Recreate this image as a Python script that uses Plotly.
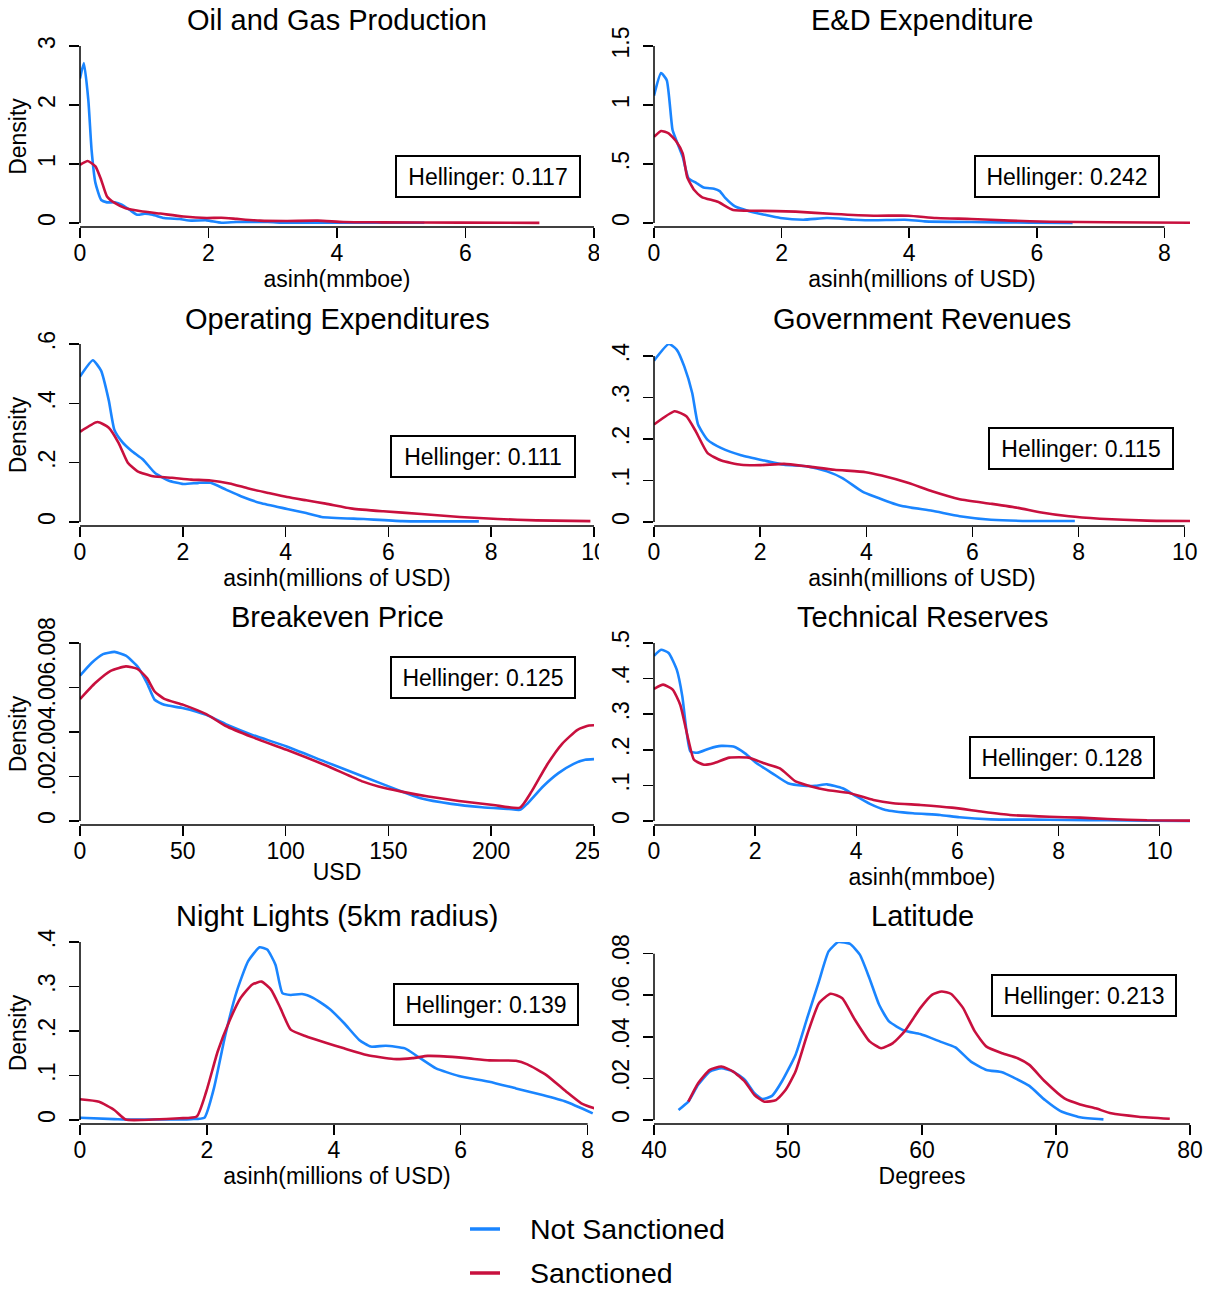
import plotly.graph_objects as go

W, H = 1213, 1290
FONT = "Liberation Sans, Arial, Helvetica, sans-serif"
BLUE = "#1A85FF"
RED = "#C8103E"

# ---------------- data ----------------
# Oil and Gas Production
oil_x_ns = [0, 0.06, 0.13, 0.18, 0.24, 0.33, 0.42, 0.54, 0.65, 0.77, 0.89, 1.01, 1.13, 1.31, 1.55, 1.73, 1.97, 2.2, 2.44, 2.92, 3.2, 4.0, 5.36]
oil_y_ns = [2.45, 2.71, 2.08, 1.24, 0.68, 0.39, 0.35, 0.35, 0.31, 0.225, 0.14, 0.157, 0.14, 0.084, 0.067, 0.04, 0.045, 0.005, 0.017, 0.017, 0.004, 0.004, 0.004]
oil_x_s = [0, 0.12, 0.24, 0.33, 0.42, 0.54, 0.71, 0.95, 1.25, 1.61, 1.97, 2.2, 2.44, 2.8, 3.2, 3.7, 4.1, 4.7, 5.9, 7.15]
oil_y_s = [0.985, 1.05, 0.96, 0.73, 0.45, 0.34, 0.25, 0.2, 0.16, 0.11, 0.085, 0.09, 0.07, 0.04, 0.034, 0.04, 0.017, 0.011, 0.006, 0.002]

# E&D Expenditure
ed_x_ns = [0, 0.11, 0.2, 0.29, 0.35, 0.45, 0.54, 0.66, 0.78, 0.94, 1.03, 1.12, 1.27, 1.49, 1.73, 1.98, 2.34, 2.71, 3.14, 3.44, 3.93, 4.24, 4.97, 5.89, 6.56]
ed_y_ns = [1.08, 1.27, 1.21, 0.79, 0.70, 0.56, 0.38, 0.34, 0.30, 0.29, 0.27, 0.21, 0.14, 0.10, 0.07, 0.042, 0.028, 0.042, 0.028, 0.023, 0.028, 0.014, 0.008, 0.003, 0.001]
ed_x_s = [0, 0.11, 0.23, 0.35, 0.45, 0.52, 0.63, 0.75, 1.0, 1.24, 1.61, 2.22, 2.83, 3.44, 3.99, 4.42, 4.97, 5.58, 6.2, 7.11, 8.4]
ed_y_s = [0.73, 0.78, 0.76, 0.69, 0.59, 0.39, 0.28, 0.22, 0.18, 0.11, 0.104, 0.096, 0.076, 0.062, 0.062, 0.042, 0.034, 0.02, 0.011, 0.006, 0.002]

# Operating Expenditures
opex_x_ns = [0, 0.25, 0.41, 0.56, 0.67, 0.82, 1.0, 1.23, 1.46, 1.72, 2.01, 2.31, 2.54, 2.84, 3.13, 3.51, 4.03, 4.4, 4.7, 5.52, 6.27, 7.76]
opex_y_ns = [0.49, 0.545, 0.51, 0.41, 0.31, 0.27, 0.24, 0.21, 0.165, 0.14, 0.128, 0.132, 0.132, 0.109, 0.087, 0.064, 0.044, 0.03, 0.017, 0.01, 0.003, 0.002]
opex_x_s = [0, 0.34, 0.56, 0.75, 0.93, 1.12, 1.42, 1.79, 2.16, 2.54, 2.91, 3.28, 3.66, 4.03, 4.4, 4.78, 5.3, 5.9, 6.64, 7.39, 8.13, 8.88, 9.93]
opex_y_s = [0.304, 0.337, 0.318, 0.267, 0.2, 0.171, 0.154, 0.149, 0.143, 0.14, 0.13, 0.113, 0.098, 0.084, 0.073, 0.062, 0.045, 0.036, 0.027, 0.017, 0.01, 0.0056, 0.003]

# Government Revenues
gov_x_ns = [0, 0.28, 0.43, 0.57, 0.72, 0.83, 1.01, 1.27, 1.64, 2.08, 2.45, 2.89, 3.26, 3.55, 3.92, 4.14, 4.65, 5.24, 5.76, 6.35, 7.08, 7.93]
gov_y_ns = [0.389, 0.429, 0.415, 0.375, 0.311, 0.235, 0.198, 0.178, 0.161, 0.148, 0.138, 0.134, 0.122, 0.106, 0.074, 0.062, 0.039, 0.027, 0.014, 0.0056, 0.0024, 0.0024]
gov_x_s = [0, 0.39, 0.61, 0.79, 1.01, 1.27, 1.64, 2.01, 2.45, 2.89, 3.40, 3.99, 4.29, 4.8, 5.24, 5.76, 6.35, 6.86, 7.3, 7.82, 8.4, 9.29, 10.1]
gov_y_s = [0.235, 0.267, 0.255, 0.218, 0.166, 0.148, 0.138, 0.137, 0.14, 0.134, 0.126, 0.12, 0.112, 0.094, 0.074, 0.055, 0.044, 0.034, 0.023, 0.0137, 0.008, 0.0032, 0.0024]

# Breakeven Price
be_x_ns = [0, 5.6, 11.2, 16.8, 22.3, 27.9, 32.6, 36.3, 41, 50.3, 61.4, 72.6, 83.8, 100.5, 119.1, 137.7, 154.5, 165.7, 180.6, 195.5, 208.5, 214, 217.8, 225.2, 232.7, 240.1, 245.7, 250]
be_y_ns = [0.00653, 0.0071, 0.0075, 0.0076, 0.00743, 0.00695, 0.0062, 0.00545, 0.00522, 0.00507, 0.00477, 0.00428, 0.00387, 0.00335, 0.00267, 0.0020, 0.0014, 0.00102, 0.00077, 0.00062, 0.00054, 0.0005, 0.0008, 0.00155, 0.00215, 0.00257, 0.00275, 0.00278]
be_x_s = [0, 7.4, 14.9, 22.3, 27.9, 32.6, 36.3, 41, 50.3, 61.4, 70.7, 83.8, 100.5, 119.1, 137.7, 145.2, 156.4, 169.4, 184.3, 201, 214, 219.6, 227.1, 234.5, 242, 247.6, 250]
be_y_s = [0.00548, 0.0062, 0.00675, 0.00695, 0.00684, 0.00642, 0.00582, 0.00549, 0.00522, 0.0048, 0.00428, 0.00377, 0.0032, 0.00252, 0.00177, 0.00155, 0.00132, 0.0011, 0.0009, 0.00072, 0.0006, 0.00132, 0.00252, 0.00347, 0.0041, 0.00429, 0.0043]

# Technical Reserves
tr_x_ns = [0, 0.14, 0.29, 0.45, 0.56, 0.64, 0.72, 0.87, 1.1, 1.33, 1.57, 1.8, 2.03, 2.34, 2.65, 2.96, 3.19, 3.42, 3.73, 3.96, 4.27, 4.58, 5.12, 5.66, 6.04, 6.66, 7.43, 8.2, 8.97, 9.75, 10.6]
tr_y_ns = [0.464, 0.481, 0.472, 0.425, 0.35, 0.256, 0.195, 0.192, 0.204, 0.211, 0.209, 0.19, 0.162, 0.134, 0.106, 0.099, 0.099, 0.103, 0.092, 0.073, 0.048, 0.031, 0.0216, 0.017, 0.0103, 0.0047, 0.0038, 0.0028, 0.0019, 0.0009, 0.0]
tr_x_s = [0, 0.18, 0.37, 0.52, 0.68, 0.79, 0.99, 1.18, 1.49, 1.87, 2.18, 2.49, 2.8, 3.11, 3.42, 3.88, 4.34, 4.73, 5.27, 5.89, 6.5, 7.04, 7.82, 8.43, 8.97, 9.75, 10.6]
tr_y_s = [0.371, 0.383, 0.369, 0.326, 0.228, 0.172, 0.158, 0.162, 0.178, 0.178, 0.162, 0.148, 0.111, 0.097, 0.087, 0.078, 0.059, 0.05, 0.045, 0.0375, 0.026, 0.017, 0.012, 0.0094, 0.0056, 0.0019, 0.001]

# Night Lights (5km radius)
nl_x_ns = [0, 0.54, 0.72, 1.15, 1.75, 1.96, 2.11, 2.29, 2.47, 2.65, 2.83, 2.95, 3.08, 3.19, 3.32, 3.5, 3.68, 3.92, 4.16, 4.4, 4.58, 4.82, 5.12, 5.36, 5.61, 5.97, 6.45, 6.87, 7.29, 7.66, 8.08]
nl_y_ns = [0.005, 0.002, 0.001, 0.001, 0.002, 0.005, 0.071, 0.191, 0.289, 0.357, 0.388, 0.383, 0.349, 0.285, 0.281, 0.283, 0.274, 0.251, 0.218, 0.18, 0.165, 0.167, 0.161, 0.139, 0.116, 0.099, 0.086, 0.071, 0.056, 0.041, 0.015]
nl_x_s = [0, 0.3, 0.54, 0.72, 1.15, 1.57, 1.84, 1.99, 2.17, 2.35, 2.53, 2.71, 2.86, 3.01, 3.16, 3.32, 3.56, 3.86, 4.16, 4.52, 4.94, 5.24, 5.48, 5.73, 6.09, 6.45, 6.87, 7.05, 7.35, 7.66, 7.9, 8.11]
nl_y_s = [0.0465, 0.041, 0.0225, 0.001, 0.001, 0.004, 0.008, 0.064, 0.154, 0.221, 0.274, 0.304, 0.311, 0.293, 0.251, 0.203, 0.188, 0.174, 0.161, 0.146, 0.137, 0.139, 0.144, 0.143, 0.139, 0.134, 0.133, 0.125, 0.101, 0.064, 0.0375, 0.026]

# Latitude
lat_x_ns = [41.83, 42.56, 43.29, 44.16, 45.03, 45.91, 46.78, 47.5, 48.09, 48.81, 49.54, 50.56, 51.43, 52.31, 53.03, 53.76, 54.63, 55.36, 56.07, 56.8, 57.54, 58.71, 59.87, 61.32, 62.49, 63.65, 64.81, 65.98, 66.85, 68.01, 69.18, 70.34, 71.8, 73.54]
lat_y_ns = [0.0048, 0.0088, 0.0169, 0.0233, 0.0249, 0.0233, 0.0193, 0.0129, 0.0101, 0.0116, 0.0185, 0.0313, 0.049, 0.0667, 0.0811, 0.0856, 0.0847, 0.0795, 0.0683, 0.0554, 0.0474, 0.0429, 0.0413, 0.0378, 0.0349, 0.0281, 0.0241, 0.023, 0.0204, 0.0164, 0.0096, 0.0043, 0.0013, 0.0003]
lat_x_s = [42.56, 43.29, 44.16, 45.03, 45.91, 46.78, 47.5, 48.23, 49.1, 49.83, 50.56, 51.43, 52.31, 53.18, 54.05, 54.92, 56.09, 56.95, 57.83, 58.7, 59.87, 60.74, 61.47, 62.18, 63.07, 63.94, 64.81, 65.98, 67.14, 68.01, 69.18, 70.63, 71.8, 72.96, 74.12, 76.16, 78.49]
lat_y_s = [0.0088, 0.0177, 0.0241, 0.0257, 0.0233, 0.0185, 0.012, 0.0088, 0.0096, 0.0145, 0.0233, 0.041, 0.0562, 0.0607, 0.0586, 0.049, 0.0378, 0.0345, 0.037, 0.0426, 0.0538, 0.0602, 0.0618, 0.0606, 0.0538, 0.0426, 0.0353, 0.0321, 0.0297, 0.0265, 0.0185, 0.0104, 0.0075, 0.0056, 0.0032, 0.0016, 0.0006]

# titles, labels, statistics, ticks
titles = ["Oil and Gas Production", "E&D Expenditure", "Operating Expenditures", "Government Revenues",
          "Breakeven Price", "Technical Reserves", "Night Lights (5km radius)", "Latitude"]
xlabels = ["asinh(mmboe)", "asinh(millions of USD)", "asinh(millions of USD)", "asinh(millions of USD)",
           "USD", "asinh(mmboe)", "asinh(millions of USD)", "Degrees"]
hellinger = [0.117, 0.242, 0.111, 0.115, 0.125, 0.128, 0.139, 0.213]
legend_names = ["Not Sanctioned", "Sanctioned"]

xticks_oil = [0, 2, 4, 6, 8]
xticks_ed = [0, 2, 4, 6, 8]
xticks_opex = [0, 2, 4, 6, 8, 10]
xticks_gov = [0, 2, 4, 6, 8, 10]
xticks_be = [0, 50, 100, 150, 200, 250]
xticks_tr = [0, 2, 4, 6, 8, 10]
xticks_nl = [0, 2, 4, 6, 8]
xticks_lat = [40, 50, 60, 70, 80]

yticks_oil = [0, 1, 2, 3]
yticklabels_oil = ["0", "1", "2", "3"]
yticks_ed = [0, 0.5, 1, 1.5]
yticklabels_ed = ["0", ".5", "1", "1.5"]
yticks_opex = [0, 0.2, 0.4, 0.6]
yticklabels_opex = ["0", ".2", ".4", ".6"]
yticks_gov = [0, 0.1, 0.2, 0.3, 0.4]
yticklabels_gov = ["0", ".1", ".2", ".3", ".4"]
yticks_be = [0, 0.002, 0.004, 0.006, 0.008]
yticklabels_be = ["0", ".002", ".004", ".006", ".008"]
yticks_tr = [0, 0.1, 0.2, 0.3, 0.4, 0.5]
yticklabels_tr = ["0", ".1", ".2", ".3", ".4", ".5"]
yticks_nl = [0, 0.1, 0.2, 0.3, 0.4]
yticklabels_nl = ["0", ".1", ".2", ".3", ".4"]
yticks_lat = [0, 0.02, 0.04, 0.06, 0.08]
yticklabels_lat = ["0", ".02", ".04", ".06", ".08"]

series = [
    (oil_x_ns, oil_y_ns, oil_x_s, oil_y_s, xticks_oil, yticks_oil, yticklabels_oil),
    (ed_x_ns, ed_y_ns, ed_x_s, ed_y_s, xticks_ed, yticks_ed, yticklabels_ed),
    (opex_x_ns, opex_y_ns, opex_x_s, opex_y_s, xticks_opex, yticks_opex, yticklabels_opex),
    (gov_x_ns, gov_y_ns, gov_x_s, gov_y_s, xticks_gov, yticks_gov, yticklabels_gov),
    (be_x_ns, be_y_ns, be_x_s, be_y_s, xticks_be, yticks_be, yticklabels_be),
    (tr_x_ns, tr_y_ns, tr_x_s, tr_y_s, xticks_tr, yticks_tr, yticklabels_tr),
    (nl_x_ns, nl_y_ns, nl_x_s, nl_y_s, xticks_nl, yticks_nl, yticklabels_nl),
    (lat_x_ns, lat_y_ns, lat_x_s, lat_y_s, xticks_lat, yticks_lat, yticklabels_lat),
]

# ---------------- layout geometry (pixels) ----------------
COL_X = [(80, 594), (654, 1190)]
ROW_Y = [(46, 223), (344, 522), (643, 821), (942, 1120)]
AX_GAP = 4
BOX_CENTERS = [(488, 177), (1067, 177), (483, 457), (1081, 448),
               (483, 677), (1062, 757), (486, 1004), (1084, 995)]
TITLE_Y = [20, 319, 617, 916]
LEGEND_Y = [1229, 1273]
LEGEND_LINE_X = (470, 500)
LEGEND_TEXT_X = 528


def px_x(v):
    return v / W


def px_y(v):
    return 1 - v / H


fig = go.Figure()
layout = dict(
    width=W, height=H, margin=dict(l=0, r=0, t=0, b=0),
    paper_bgcolor="white", plot_bgcolor="white",
    font=dict(family=FONT, color="black", size=23),
    showlegend=False,
)
shapes = []
annotations = []

for i, (xn, yn, xs, ys, xt, yt, ytl) in enumerate(series):
    n = i + 1
    r, c = divmod(i, 2)
    x0, x1 = COL_X[c]
    ytop, yzero = ROW_Y[r]
    xref = "x" if n == 1 else f"x{n}"
    yref = "y" if n == 1 else f"y{n}"

    data_min_x = min(min(xn), min(xs))
    data_max_x = max(max(xn), max(xs))
    if c == 1:
        xr = [min(xt[0], data_min_x), max(xt[-1], data_max_x)]
    else:
        xr = [min(xt[0], data_min_x), max(xt[-1], min(data_max_x, xt[-1] * 1.0125))]
    ymax = max(yt[-1], max(yn), max(ys))
    pad = ymax * AX_GAP / (yzero - ytop)

    fig.add_trace(go.Scatter(x=xn, y=yn, mode="lines", name=legend_names[0],
                             line=dict(color=BLUE, width=2.6, shape="spline", smoothing=0.5),
                             xaxis=xref, yaxis=yref, hoverinfo="skip"))
    fig.add_trace(go.Scatter(x=xs, y=ys, mode="lines", name=legend_names[1],
                             line=dict(color=RED, width=2.6, shape="spline", smoothing=0.5),
                             xaxis=xref, yaxis=yref, hoverinfo="skip"))

    xkey = "xaxis" if n == 1 else f"xaxis{n}"
    ykey = "yaxis" if n == 1 else f"yaxis{n}"
    layout[xkey] = dict(
        domain=[px_x(x0), px_x(x1)], range=xr, anchor=yref,
        tickvals=xt, ticktext=[str(v) for v in xt], ticklabelstandoff=-5,
        ticks="outside", ticklen=10, tickwidth=1.5, tickcolor="black",
        showline=False, showgrid=False, zeroline=False,
        tickfont=dict(size=23, family=FONT, color="black"),
        title=dict(text=xlabels[i], font=dict(size=23, family=FONT, color="black"), standoff=1),
        automargin=False,
    )
    layout[ykey] = dict(
        domain=[px_y(yzero + AX_GAP), px_y(ytop)], range=[-pad, ymax], anchor=xref,
        tickvals=yt, ticktext=ytl, tickangle=-90, ticklabelstandoff=5,
        ticks="outside", ticklen=10, tickwidth=1.5, tickcolor="black",
        showline=False, showgrid=False, zeroline=False,
        tickfont=dict(size=23, family=FONT, color="black"),
        title=dict(text="Density" if c == 0 else "", font=dict(size=23, family=FONT, color="black"), standoff=0),
        automargin=False,
    )
    # Stata-style axis lines that stop at the outer ticks
    shapes.append(dict(type="line", xref=xref, yref=f"{yref} domain", x0=xt[0], x1=xt[-1], y0=0, y1=0,
                       line=dict(color="black", width=1.5)))
    shapes.append(dict(type="line", xref=f"{xref} domain", yref=yref, x0=0, x1=0, y0=yt[0], y1=yt[-1],
                       line=dict(color="black", width=1.5)))
    # panel title
    annotations.append(dict(text=titles[i], xref="paper", yref="paper",
                            x=px_x((x0 + x1) / 2), y=px_y(TITLE_Y[r]), xanchor="center", yanchor="middle",
                            showarrow=False, font=dict(size=29, family=FONT, color="black")))
    # Hellinger box
    bx, by = BOX_CENTERS[i]
    annotations.append(dict(text=f"Hellinger: {hellinger[i]:.3f}", xref="paper", yref="paper",
                            x=px_x(bx), y=px_y(by), xanchor="center", yanchor="middle",
                            showarrow=False, font=dict(size=23, family=FONT, color="black"),
                            bordercolor="black", borderwidth=2, borderpad=3, bgcolor="white",
                            width=176, height=33))

# clip left-column tick labels at the panel edge, as in the original composite
for r in range(3):
    ytop, yzero = ROW_Y[r]
    shapes.append(dict(type="rect", xref="paper", yref="paper", layer="above",
                       x0=px_x(599), x1=px_x(619), y0=px_y(yzero + 14), y1=px_y(yzero + 42),
                       fillcolor="white", line=dict(width=0)))

# legend (Stata style: short key, wide gap before the label)
for name, color, ly in zip(legend_names, [BLUE, RED], LEGEND_Y):
    shapes.append(dict(type="line", xref="paper", yref="paper",
                       x0=px_x(LEGEND_LINE_X[0]), x1=px_x(LEGEND_LINE_X[1]), y0=px_y(ly), y1=px_y(ly),
                       line=dict(color=color, width=3.5)))
    annotations.append(dict(text=name, xref="paper", yref="paper", x=px_x(LEGEND_TEXT_X), y=px_y(ly),
                            xanchor="left", yanchor="middle", showarrow=False,
                            font=dict(size=28.5, family=FONT, color="black")))

layout["shapes"] = shapes
layout["annotations"] = annotations
fig.update_layout(**layout)
# the figure fills the whole page, so drop the browser's default body margin
fig.write_html("out.html", config={"displayModeBar": False, "staticPlot": True},
               post_script="document.body.style.margin='0px';")
